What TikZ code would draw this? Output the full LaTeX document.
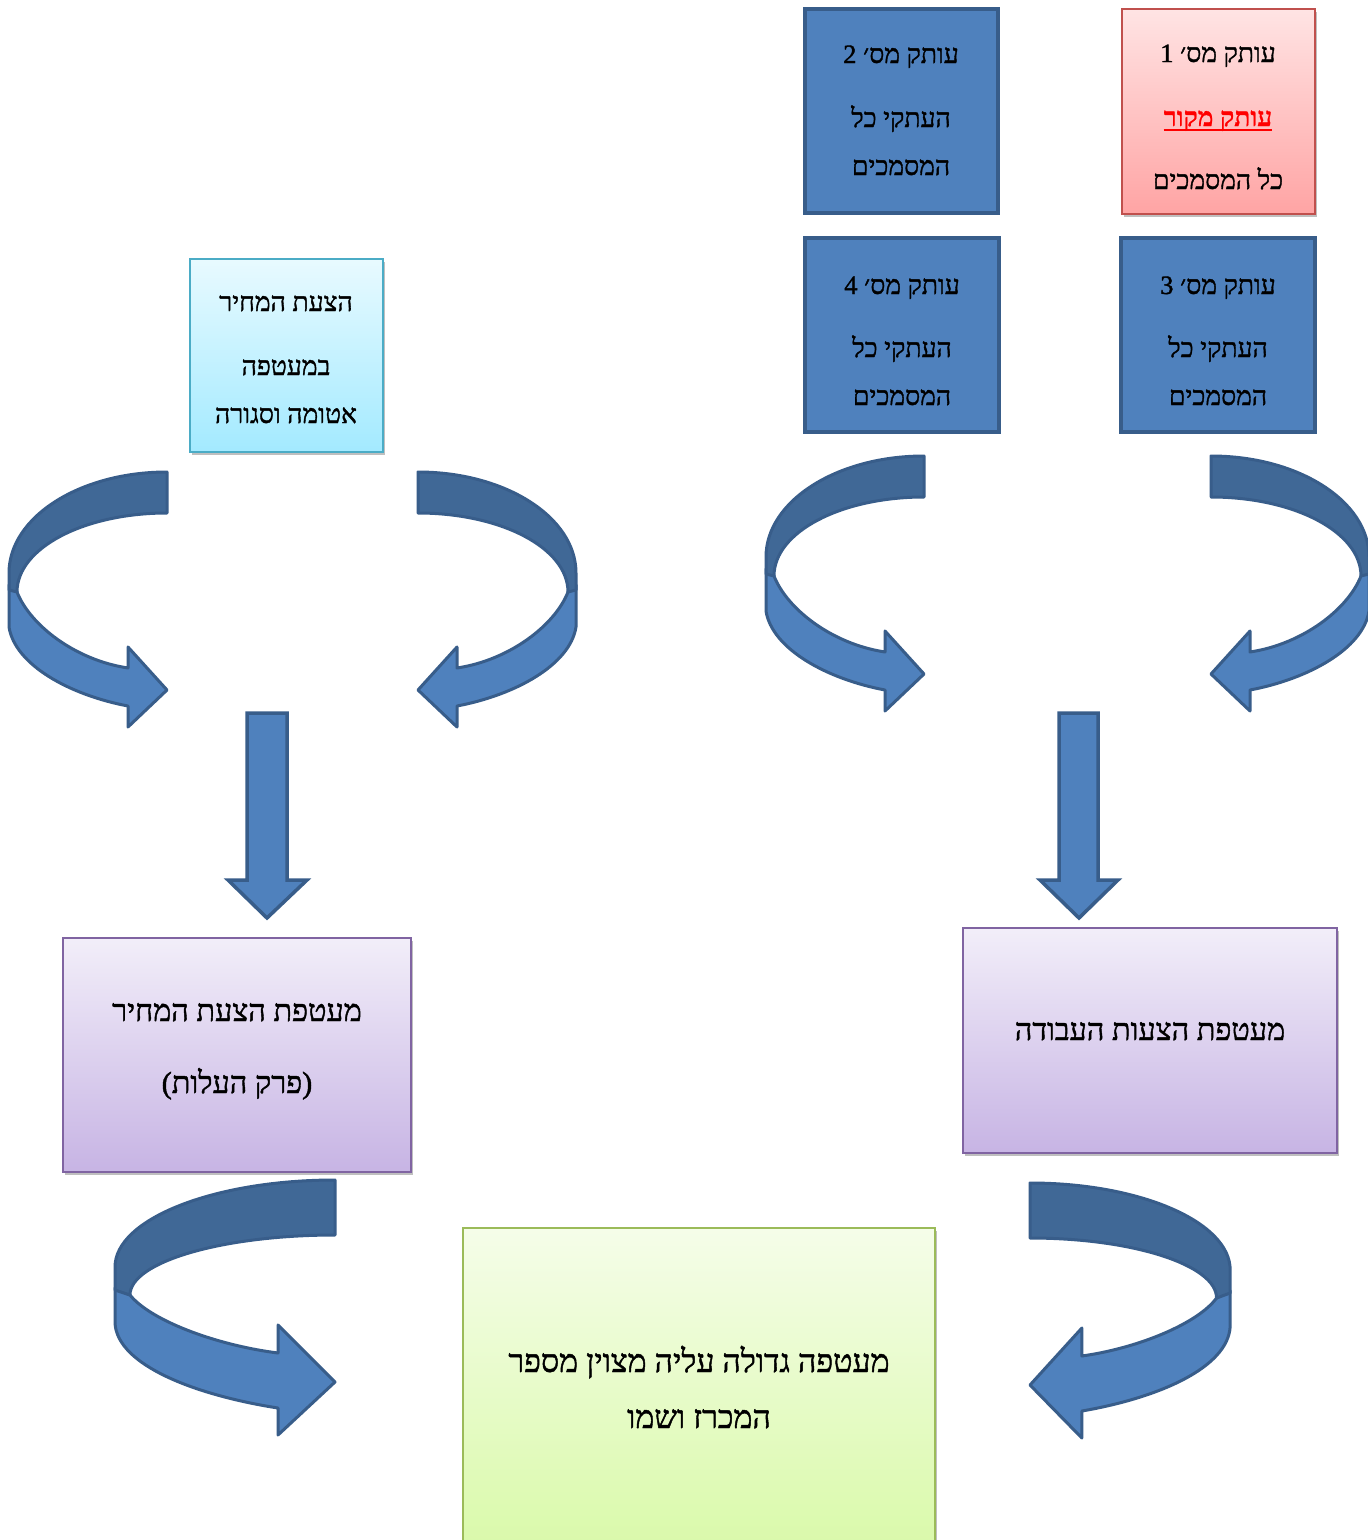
\documentclass[tikz,border=0pt]{standalone}
\usepackage{fontspec}
\newfontfamily\heb[Script=Hebrew,FakeBold=1.4]{Liberation Serif}
\newfontfamily\hebbold[Script=Hebrew,FakeBold=0.8]{Liberation Serif Bold}
\TeXXeTstate=1
\usetikzlibrary{shadows}
\definecolor{bfill}{HTML}{4F81BD}
\definecolor{bdark}{HTML}{406896}
\definecolor{bline}{HTML}{385D8A}
\definecolor{pinkline}{HTML}{C0504D}
\definecolor{pinktop}{HTML}{FFE4E4}
\definecolor{pinkbot}{HTML}{FFA4A4}
\definecolor{cyanline}{HTML}{4BACC6}
\definecolor{cyantop}{HTML}{E8FAFF}
\definecolor{cyanbot}{HTML}{A3EAFF}
\definecolor{purpline}{HTML}{8064A2}
\definecolor{purptop}{HTML}{F2EEF9}
\definecolor{purpbot}{HTML}{C7B4E4}
\definecolor{greenline}{HTML}{9BBB59}
\definecolor{greentop}{HTML}{F5FDE9}
\definecolor{greenbot}{HTML}{D8F9A6}
\newcommand{\toparrowshape}{%
  \filldraw[ribbonlight] (-150,120) -- (-158,113) -- (-158,155)
    .. controls (-152,193) and (-97,223) .. (-39,234) -- (-39,255) -- (0,218)
    -- (-39,175) -- (-39,196) .. controls (-92,188) and (-137,153) .. (-150,120) -- cycle;
  \filldraw[ribbondark] (0,0) .. controls (-87,0) and (-158,45) .. (-158,101)
    -- (-158,118) -- (-150,120) .. controls (-150,76) and (-83,41) .. (0,41) -- cycle;}
\newcommand{\botarrowshape}{%
  \filldraw[ribbonlight] (-205,115) -- (-220,108) -- (-220,143)
    .. controls (-218,185) and (-140,215) .. (-57,228) -- (-57,255) -- (0,202)
    -- (-57,145) -- (-57,173) .. controls (-120,165) and (-185,140) .. (-205,115) -- cycle;
  \filldraw[ribbondark] (0,0) .. controls (-121,0) and (-220,39) .. (-220,87)
    -- (-220,110) -- (-205,115) .. controls (-205,82) and (-113,55) .. (0,55) -- cycle;}
\begin{document}
\begin{tikzpicture}[x=1pt,y=-1pt,
  ribbonlight/.style={fill=bfill,draw=bline,line width=3pt,line join=round},
  ribbondark/.style={fill=bdark,draw=bline,line width=3pt,line join=round},
  softshadow/.style={drop shadow={shadow xshift=2pt,shadow yshift=-3pt,opacity=0.25,fill=black}},
  bluebox/.style={draw=bline,fill=bfill,line width=3.5pt,inner sep=0pt},
  pinkbox/.style={draw=pinkline,top color=pinktop,bottom color=pinkbot,line width=1.5pt,inner sep=0pt,softshadow},
  cyanbox/.style={draw=cyanline,top color=cyantop,bottom color=cyanbot,line width=1.5pt,inner sep=0pt,softshadow},
  purpbox/.style={draw=purpline,top color=purptop,bottom color=purpbot,line width=1.5pt,inner sep=0pt,softshadow},
  greenbox/.style={draw=greenline,top color=greentop,bottom color=greenbot,line width=1.5pt,inner sep=0pt,softshadow},
  stxt/.style={inner sep=0pt,anchor=base,font=\heb\fontsize{26.5}{30}\selectfont},
  btxt/.style={inner sep=0pt,anchor=base,font=\heb\fontsize{30.5}{34}\selectfont},
  gtxt/.style={inner sep=0pt,anchor=base,font=\heb\fontsize{32}{36}\selectfont}]
\clip (0,0) rectangle (1368,1540);
\fill[white] (0,0) rectangle (1368,1540);
% top boxes
\node[pinkbox,minimum width=193pt,minimum height=205pt] (c1) at (1218.5,111.5) {};
\node[bluebox,minimum width=193pt,minimum height=204pt] (c2) at (901.5,111) {};
\node[bluebox,minimum width=194pt,minimum height=194pt] (c3) at (1218,335) {};
\node[bluebox,minimum width=194pt,minimum height=194pt] (c4) at (902,335) {};
\node[cyanbox,minimum width=193pt,minimum height=193pt] (env) at (286.5,355.5) {};
% texts of copies
\node[stxt] (c1a) at (1218,62) {\beginR עותק מס׳ 1\endR};
\node[stxt,text=red,font=\hebbold\fontsize{26.5}{30}\selectfont] (c1b) at (1218,126) {\beginR עותק מקור\endR};
\draw[red,line width=2pt] ([yshift=-4pt]c1b.base west) -- ([yshift=-4pt]c1b.base east);
\node[stxt] (c1c) at (1218,189) {\beginR כל המסמכים\endR};
\node[stxt] (c2a) at (901,63) {\beginR עותק מס׳ 2\endR};
\node[stxt] (c2b) at (901,127) {\beginR העתקי כל\endR};
\node[stxt] (c2c) at (901,175) {\beginR המסמכים\endR};
\node[stxt] (c3a) at (1218,294) {\beginR עותק מס׳ 3\endR};
\node[stxt] (c3b) at (1218,357) {\beginR העתקי כל\endR};
\node[stxt] (c3c) at (1218,405) {\beginR המסמכים\endR};
\node[stxt] (c4a) at (902,294) {\beginR עותק מס׳ 4\endR};
\node[stxt] (c4b) at (902,357) {\beginR העתקי כל\endR};
\node[stxt] (c4c) at (902,405) {\beginR המסמכים\endR};
\node[stxt] (enva) at (286,311) {\beginR הצעת המחיר\endR};
\node[stxt] (envb) at (286,375) {\beginR במעטפה\endR};
\node[stxt] (envc) at (286,423) {\beginR אטומה וסגורה\endR};
% curved arrows, top row
\begin{scope}[shift={(167,472)}] \toparrowshape \end{scope}
\begin{scope}[shift={(418,472)},xscale=-1] \toparrowshape \end{scope}
\begin{scope}[shift={(924,456)}] \toparrowshape \end{scope}
\begin{scope}[shift={(1211,456)},xscale=-1] \toparrowshape \end{scope}
% down arrows
\filldraw[ribbonlight,line width=3.5pt,line join=miter] (247,713) -- (287,713) -- (287,880) -- (307,880) -- (267,918) -- (228,880) -- (247,880) -- cycle;
\filldraw[ribbonlight,line width=3.5pt,line join=miter] (1059,713) -- (1098,713) -- (1098,880) -- (1118,880) -- (1079,918) -- (1040,880) -- (1059,880) -- cycle;
% envelopes
\node[purpbox,minimum width=348pt,minimum height=234pt] (pl) at (237,1055) {};
\node[purpbox,minimum width=374pt,minimum height=225pt] (pr) at (1150,1040.5) {};
\node[btxt] (pla) at (237,1021) {\beginR מעטפת הצעת המחיר\endR};
\node[btxt] (plb) at (237,1093) {\beginR (פרק העלות)\endR};
\node[btxt] (pra) at (1150,1040) {\beginR מעטפת הצעות העבודה\endR};
% big envelope
\node[greenbox,minimum width=472pt,minimum height=340pt] (big) at (699,1398) {};
\node[gtxt] (biga) at (699,1372) {\beginR מעטפה גדולה עליה מצוין מספר\endR};
\node[gtxt] (bigb) at (699,1428) {\beginR המכרז ושמו\endR};
% curved arrows, bottom row
\begin{scope}[shift={(335,1180)}] \botarrowshape \end{scope}
\begin{scope}[shift={(1030,1183)},xscale=-0.91] \botarrowshape \end{scope}
\end{tikzpicture}
\end{document}
